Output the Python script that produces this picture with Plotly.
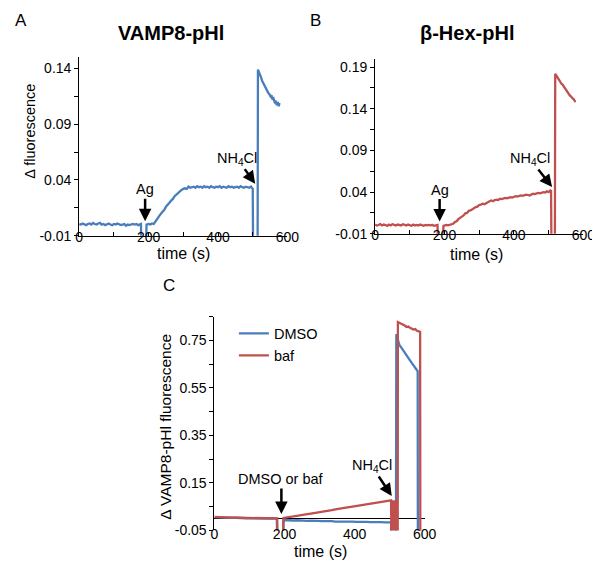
import plotly.graph_objects as go

# ---------------- data ----------------
# Panel A: VAMP8-pHl trace (time s, delta fluorescence)
vamp8_pts = [
    (0, 0.0005), (5, 0.0), (10, 0.001), (15, 0.0), (20, -0.0005), (25, 0.0005), (30, 0.001), (35, 0.0),
    (40, 0.0015), (45, 0.0005), (50, 0.0), (55, 0.001), (60, 0.0015), (65, 0.0), (70, 0.0005), (75, -0.0005),
    (80, 0.0), (85, 0.001), (90, 0.0), (95, -0.0005), (100, 0.0005), (105, 0.0), (110, 0.001), (115, 0.0),
    (120, -0.0005), (125, 0.0), (130, 0.0005), (135, -0.001), (140, 0.0), (145, -0.0005), (150, 0.0),
    (155, 0.0005), (160, 0.0), (165, 0.0005), (170, -0.0005), (175, 0.0), (178, 0.0005),
    (179, -0.02), (193, -0.02),
    (194, 0.0), (200, 0.0005), (205, 0.0), (210, 0.001), (215, 0.0005), (220, 0.003), (225, 0.005),
    (230, 0.007), (235, 0.0095), (240, 0.0115), (245, 0.013), (250, 0.016), (255, 0.0175), (260, 0.0195),
    (265, 0.0215), (270, 0.023), (275, 0.0255), (280, 0.027), (285, 0.0285), (290, 0.030), (295, 0.031),
    (300, 0.032), (305, 0.0325), (310, 0.032), (315, 0.034), (320, 0.033), (325, 0.0335), (330, 0.034),
    (335, 0.033), (340, 0.0345), (345, 0.0335), (350, 0.034), (355, 0.033), (360, 0.0345), (365, 0.0335),
    (370, 0.034), (375, 0.033), (380, 0.0345), (385, 0.0335), (390, 0.033), (395, 0.034), (400, 0.0335),
    (405, 0.0345), (410, 0.033), (415, 0.034), (420, 0.0335), (425, 0.033), (430, 0.0345), (435, 0.0335),
    (440, 0.034), (445, 0.033), (450, 0.0335), (455, 0.034), (460, 0.033), (465, 0.0345), (470, 0.0335),
    (475, 0.033), (480, 0.034), (485, 0.0335), (490, 0.033), (495, 0.034), (500, 0.032),
    (501, -0.02), (514, -0.02),
    (515, 0.139), (518, 0.137), (521, 0.134), (524, 0.132), (527, 0.129), (530, 0.127), (533, 0.126),
    (536, 0.123), (539, 0.122), (542, 0.119), (545, 0.118), (548, 0.117), (551, 0.115), (554, 0.116),
    (557, 0.112), (560, 0.113), (563, 0.110), (566, 0.111), (569, 0.107), (572, 0.110), (575, 0.106),
    (577, 0.109),
]

# Panel B: beta-Hex-pHl trace
bhex_pts = [
    (0, 0.001), (5, 0.0), (10, 0.0005), (15, 0.0015), (20, 0.0), (25, 0.001), (30, 0.0005), (35, -0.0005),
    (40, 0.001), (45, 0.0), (50, 0.0015), (55, 0.0005), (60, 0.0), (65, 0.001), (70, 0.0005), (75, 0.0),
    (80, 0.0015), (85, 0.0005), (90, 0.0), (95, 0.001), (100, 0.0005), (105, -0.0005), (110, 0.001),
    (115, 0.0), (120, 0.0005), (125, 0.0), (130, 0.001), (135, 0.0), (140, -0.0005), (145, 0.0005),
    (150, 0.0), (155, 0.0005), (160, 0.0), (165, 0.0005), (170, -0.0005), (175, 0.0), (180, 0.0005),
    (181, -0.02), (196, -0.02),
    (197, -0.0005), (200, 0.0), (205, 0.0005), (210, 0.0), (215, 0.0005), (220, 0.0015), (225, 0.002),
    (230, 0.004), (235, 0.005), (240, 0.0075), (245, 0.0085), (250, 0.0105), (255, 0.012), (260, 0.0145),
    (265, 0.015), (270, 0.0175), (275, 0.018), (280, 0.0195), (285, 0.021), (290, 0.022), (295, 0.0225),
    (300, 0.0245), (305, 0.025), (310, 0.026), (315, 0.0255), (320, 0.027), (325, 0.0285), (330, 0.029),
    (335, 0.030), (340, 0.029), (345, 0.0305), (350, 0.031), (355, 0.0305), (360, 0.032), (365, 0.0315),
    (370, 0.032), (375, 0.033), (380, 0.0325), (385, 0.033), (390, 0.034), (395, 0.0335), (400, 0.034),
    (405, 0.035), (410, 0.0345), (415, 0.035), (420, 0.036), (425, 0.0355), (430, 0.036), (435, 0.037),
    (440, 0.0365), (445, 0.036), (450, 0.037), (455, 0.038), (460, 0.0375), (465, 0.038), (470, 0.039),
    (475, 0.0385), (480, 0.039), (485, 0.040), (490, 0.0395), (495, 0.041), (500, 0.040), (505, 0.042),
    (507, 0.0415),
    (508, -0.02), (518, -0.02),
    (519, 0.182), (522, 0.180), (525, 0.178), (528, 0.176), (531, 0.173), (534, 0.172), (537, 0.170),
    (540, 0.169), (543, 0.167), (546, 0.165), (549, 0.163), (552, 0.161), (555, 0.160), (558, 0.157),
    (561, 0.156), (564, 0.155), (567, 0.153), (570, 0.152), (573, 0.151), (576, 0.149), (578, 0.1495),
]

# Panel C: DMSO trace
dmso_pts = [
    (0, 0.006), (10, 0.005), (20, 0.0055), (30, 0.004), (40, 0.0045), (50, 0.003), (60, 0.0035), (70, 0.002),
    (80, 0.003), (90, 0.0015), (100, 0.002), (110, 0.001), (120, 0.0015), (130, 0.0), (140, 0.001),
    (150, -0.0005), (160, 0.0005), (170, -0.001), (178, 0.0),
    (179, -0.08), (196, -0.08),
    (197, -0.006), (205, -0.007), (215, -0.006), (225, -0.008), (235, -0.007), (245, -0.009), (255, -0.008),
    (265, -0.010), (275, -0.009), (285, -0.011), (295, -0.010), (305, -0.011), (315, -0.0105), (325, -0.012),
    (335, -0.011), (345, -0.0125), (355, -0.012), (365, -0.013), (375, -0.012), (385, -0.0135), (395, -0.013),
    (405, -0.014), (415, -0.013), (425, -0.0145), (435, -0.014), (445, -0.015), (455, -0.014), (465, -0.0155),
    (475, -0.015), (485, -0.016), (495, -0.0155), (504, -0.016),
    (505, -0.08), (518, -0.08),
    (519, 0.776), (522, 0.765), (525, 0.745), (528, 0.730), (533, 0.720), (538, 0.708), (543, 0.697),
    (548, 0.687), (553, 0.676), (558, 0.666), (563, 0.655), (568, 0.645), (573, 0.634), (578, 0.625),
    (580, 0.620),
    (580.5, -0.08),
]

# Panel C: bafilomycin trace
baf_pts = [
    (0, 0.007), (10, 0.0055), (20, 0.006), (30, 0.005), (40, 0.0045), (50, 0.004), (60, 0.0035), (70, 0.003),
    (80, 0.0025), (90, 0.003), (100, 0.002), (110, 0.0015), (120, 0.002), (130, 0.001), (140, 0.0015),
    (150, 0.0005), (160, 0.001), (170, 0.0), (179, 0.0005),
    (180, -0.08), (196, -0.08),
    (197, 0.003), (205, 0.004), (215, 0.007), (225, 0.009), (235, 0.0115), (245, 0.013), (255, 0.016),
    (265, 0.0185), (275, 0.021), (285, 0.023), (295, 0.0265), (305, 0.028), (315, 0.031), (325, 0.034),
    (335, 0.0355), (345, 0.039), (355, 0.0405), (365, 0.044), (375, 0.046), (385, 0.0485), (395, 0.051),
    (405, 0.053), (415, 0.0565), (425, 0.058), (435, 0.061), (445, 0.0635), (455, 0.065), (465, 0.068),
    (475, 0.0695), (485, 0.072), (495, 0.0745), (504, 0.077),
    (505, -0.08), (507, 0.077), (509, -0.08), (511, 0.077), (513, -0.08), (515, 0.077), (517, -0.08),
    (519, 0.077), (521, -0.08), (523, -0.08),
    (523.5, 0.827), (528, 0.824), (533, 0.819), (538, 0.815), (543, 0.812), (548, 0.806), (553, 0.808),
    (558, 0.803), (563, 0.799), (568, 0.795), (573, 0.797), (578, 0.790), (583, 0.788), (587, 0.786),
    (587.5, -0.08),
]

# tick labels (hyphen-minus as in the reference)
x_tickvals = [0, 200, 400, 600]
x_ticktext = ["0", "200", "400", "600"]
yA_tickvals = [-0.01, 0.04, 0.09, 0.14]
yA_ticktext = ["-0.01", "0.04", "0.09", "0.14"]
yB_tickvals = [-0.01, 0.04, 0.09, 0.14, 0.19]
yB_ticktext = ["-0.01", "0.04", "0.09", "0.14", "0.19"]
yC_tickvals = [-0.05, 0.15, 0.35, 0.55, 0.75]
yC_ticktext = ["-0.05", "0.15", "0.35", "0.55", "0.75"]

BLUE = "#4A7EBB"
RED = "#C0504D"
FONT = "Liberation Sans, Arial, sans-serif"
W, H = 600, 563


def px_x(p):
    return p / W


def px_y(p):
    return 1 - p / H


def split(pts):
    return [p[0] for p in pts], [p[1] for p in pts]


fig = go.Figure()
tA, vA = split(vamp8_pts)
tB, vB = split(bhex_pts)
tD, vD = split(dmso_pts)
tF, vF = split(baf_pts)

LW = 2.3
fig.add_trace(go.Scatter(x=tA, y=vA, mode="lines", line=dict(color=BLUE, width=LW),
                         xaxis="x", yaxis="y", showlegend=False))
fig.add_trace(go.Scatter(x=tB, y=vB, mode="lines", line=dict(color=RED, width=LW),
                         xaxis="x2", yaxis="y2", showlegend=False))
fig.add_trace(go.Scatter(x=tD, y=vD, mode="lines", name="DMSO", line=dict(color=BLUE, width=LW),
                         xaxis="x3", yaxis="y3"))
fig.add_trace(go.Scatter(x=tF, y=vF, mode="lines", name="baf", line=dict(color=RED, width=LW),
                         xaxis="x3", yaxis="y3"))

tickfont = dict(family=FONT, size=14, color="black")


def xaxis_common(domain, anchor, showline=True, standoff=-12):
    return dict(domain=domain, anchor=anchor, range=[0, 600], tickmode="array",
                tickvals=x_tickvals, ticktext=x_ticktext,
                minor=dict(dtick=100, tick0=0, ticks="inside" if showline else "", ticklen=4,
                           tickcolor="black"),
                showgrid=False, zeroline=False, showline=showline, linecolor="black", linewidth=1,
                ticks="inside" if showline else "", ticklen=4, tickcolor="black", tickfont=tickfont,
                ticklabelstandoff=standoff)


def yaxis_common(domain, anchor, rng, tv, tt, minor_dtick, zeroline=False):
    return dict(domain=domain, anchor=anchor, range=rng, tickmode="array", tickvals=tv, ticktext=tt,
                minor=dict(tick0=tv[0], dtick=minor_dtick, ticks="outside", ticklen=4, tickcolor="black"),
                showgrid=False, zeroline=zeroline, zerolinecolor="black", zerolinewidth=1,
                showline=True, linecolor="black", linewidth=1,
                ticks="outside", ticklen=4, tickcolor="black", tickfont=tickfont)


fig.update_layout(
    width=W, height=H, margin=dict(l=0, r=0, t=0, b=0),
    paper_bgcolor="white", plot_bgcolor="white",
    font=dict(family=FONT, color="black"),
    xaxis=xaxis_common([px_x(69), px_x(283)], "y"),
    yaxis=yaxis_common([px_y(231), px_y(50)], "x", [-0.01, 0.15], yA_tickvals, yA_ticktext, 0.025),
    xaxis2=xaxis_common([px_x(373), px_x(587)], "y2"),
    yaxis2=yaxis_common([px_y(229), px_y(51.5)], "x2", [-0.01, 0.2], yB_tickvals, yB_ticktext, 0.025),
    xaxis3=xaxis_common([px_x(208), px_x(424)], "y3", showline=False, standoff=-6),
    yaxis3=yaxis_common([px_y(530), px_y(313)], "x3", [-0.05, 0.85], yC_tickvals, yC_ticktext, 0.1,
                        zeroline=True),
    legend=dict(x=px_x(228), y=px_y(314), xanchor="left", yanchor="top", bgcolor="rgba(0,0,0,0)",
                font=dict(family=FONT, size=14.5, color="black"), itemwidth=30),
)

annotations = []
# panel letters, titles and axis titles, all centred on the given pixel position
label_defs = [
    ("A", 9, 13, 0, 17),
    ("B", 312, 13, 0, 17),
    ("C", 161, 282, 0, 17),
    ("<b>VAMP8-pHl</b>", 163, 25, 0, 20),
    ("<b>β-Hex-pHl</b>", 467, 25, 0, 20),
    ("Δ fluorescence", 19, 125, -90, 14.5),
    ("time (s)", 176, 249, 0, 16),
    ("time (s)", 477, 250, 0, 16),
    ("Δ VAMP8-pHl fluorescence", 158, 425, -90, 15.5),
    ("time (s)", 317, 551, 0, 16),
]
for txt, x, y, ang, size in label_defs:
    annotations.append(dict(text=txt, x=px_x(x), y=px_y(y), xref="paper", yref="paper", showarrow=False,
                            xanchor="center", yanchor="middle", textangle=ang,
                            font=dict(family=FONT, size=size, color="black")))

arrow_style = dict(showarrow=True, arrowhead=2, arrowsize=1, arrowwidth=2.5, arrowcolor="black",
                   font=dict(family=FONT, size=14.5, color="black"), standoff=0)
# (text, axis suffix, tip time, tip value, ax, ay)
arrow_defs = [
    ("Ag", "", 190, 0.003, 0, -32),
    ("NH<sub>4</sub>Cl", "", 507, 0.0367, -18, -25),
    ("Ag", "2", 186, 0.0046, 0, -32),
    ("NH<sub>4</sub>Cl", "2", 510, 0.046, -22, -28),
    ("DMSO or baf", "3", 191, 0.019, 0, -35),
    ("NH<sub>4</sub>Cl", "3", 506, 0.095, -20, -30),
]
for txt, sfx, tx, ty, ax, ay in arrow_defs:
    a = dict(arrow_style)
    a.update(text=txt, x=tx, y=ty, xref="x" + sfx, yref="y" + sfx, ax=ax, ay=ay)
    annotations.append(a)

fig.update_layout(annotations=annotations)
fig.write_html("out.html")
